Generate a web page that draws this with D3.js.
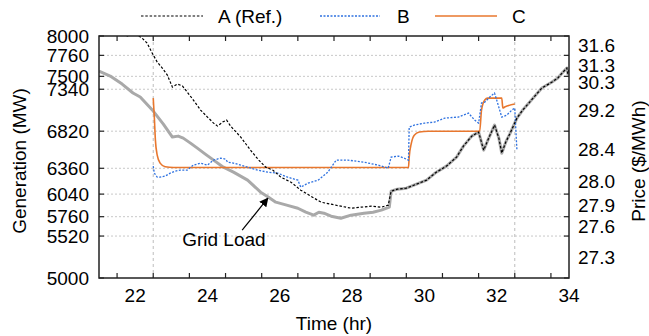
<!DOCTYPE html>
<html>
<head>
<meta charset="utf-8">
<script src="https://cdn.jsdelivr.net/npm/d3@7"></script>
<style>
  body { margin: 0; background: #fff; }
  svg { font-family: "Liberation Sans", Arial, sans-serif; }
</style>
</head>
<body>
<div id="chart"></div>
<script>
// generation axis ticks (MW) and price steps ($/MWh) between them
const genTicks = [8000, 7760, 7500, 7340, 6820, 6360, 6040, 5760, 5520, 5000];
const priceLabels = ["31.6", "31.3", "30.3", "29.2", "28.4", "28.0", "27.9", "27.6", "27.3"];
const xLabels = [22, 24, 26, 28, 30, 32, 34];
const xMinor = [21.5, 22.5, 23.5, 24.5, 25.5, 26.5, 27.5, 28.5, 29.5, 30.5, 31.5, 32.5, 33.5];
const refLines = [22.5, 32.5];

// Grid Load (gray)
const gridT = [21.00, 21.31, 21.64, 21.94, 22.14, 22.50, 22.78, 23.03, 23.19, 23.33, 23.53, 23.72, 23.94, 24.17, 24.44, 24.72, 25.11, 25.47, 25.69, 25.89, 26.19, 26.50, 26.72, 26.94, 27.08, 27.22, 27.42, 27.69, 27.97, 28.33, 28.58, 28.81, 29.03,
  29.08, 29.25, 29.50, 29.78, 30.06, 30.33, 30.61, 30.89, 31.08, 31.31, 31.50, 31.64, 31.78, 31.94, 32.06, 32.14, 32.25, 32.36, 32.56, 32.72, 32.89, 33.08, 33.25, 33.53, 33.69, 33.81, 33.94, 33.97, 34.00];
const gridG = [7566, 7504, 7404, 7293, 7243, 7069, 6908, 6747, 6759, 6734, 6672, 6610, 6536, 6461, 6374, 6312, 6213, 6064, 6002, 5940, 5903, 5865, 5816, 5779, 5816, 5803, 5766, 5741, 5779, 5803, 5816, 5841, 5878,
  6076, 6101, 6114, 6163, 6213, 6312, 6387, 6498, 6635, 6759, 6809, 6585, 6734, 6896, 6734, 6548, 6684, 6784, 6982, 7082, 7169, 7268, 7355, 7429, 7479, 7541, 7603, 7528, 7590];

// A (Ref.)
const aT = [21.00, 21.44, 21.78, 21.92, 22.06, 22.19, 22.33, 22.47, 22.61, 22.75, 22.89, 23.03, 23.17, 23.31, 23.44, 23.61, 23.81, 24.00, 24.17, 24.28, 24.42, 24.53, 24.64, 24.92, 25.19, 25.42, 25.61, 25.81, 26.03, 26.31, 26.58, 26.86, 27.14, 27.42, 27.69, 27.97, 28.25, 28.53, 28.81, 29.00,
  29.08, 29.25, 29.50, 29.78, 30.06, 30.33, 30.61, 30.89, 31.08, 31.31, 31.50, 31.64, 31.78, 31.94, 32.06, 32.14, 32.25, 32.36, 32.56, 32.72, 32.89, 33.08, 33.25, 33.53, 33.69, 33.81, 33.94, 33.97, 34.00];
const aG = [8150, 8060, 8000, 8025, 8012, 7975, 7913, 7789, 7677, 7603, 7516, 7367, 7404, 7380, 7305, 7206, 7082, 6995, 6920, 6883, 6933, 6958, 6883, 6747, 6585, 6461, 6374, 6337, 6250, 6188, 6089, 6014, 5940, 5915, 5890, 5866, 5878, 5890, 5878, 5903,
  6076, 6101, 6114, 6163, 6213, 6312, 6387, 6498, 6635, 6759, 6809, 6585, 6734, 6896, 6734, 6548, 6684, 6784, 6982, 7082, 7169, 7268, 7355, 7429, 7479, 7541, 7603, 7528, 7590];

// B
const bT = [22.50, 22.53, 22.61, 22.69, 22.83, 22.97, 23.11, 23.25, 23.44, 23.61, 23.81, 24.00, 24.17, 24.36, 24.50, 24.56, 24.72, 24.92, 25.11, 25.39, 25.67, 25.94, 26.22, 26.50, 26.58, 26.78, 27.06, 27.33, 27.56, 27.89, 28.33, 28.72, 29.00, 29.08, 29.28, 29.44, 29.56, 29.58, 29.72, 30.00, 30.28, 30.56, 30.94, 31.22, 31.39, 31.50, 31.58, 31.67, 31.81, 31.94, 32.00, 32.14, 32.28, 32.42, 32.50, 32.53, 32.56];
const bG = [6386, 6300, 6250, 6250, 6263, 6300, 6325, 6337, 6337, 6399, 6424, 6399, 6461, 6486, 6474, 6436, 6424, 6399, 6374, 6337, 6312, 6300, 6250, 6213, 6126, 6176, 6213, 6312, 6461, 6461, 6436, 6399, 6362, 6498, 6511, 6486, 6461, 6871, 6896, 6920, 6933, 6982, 6995, 7044, 6958, 6920, 7169, 7181, 7243, 7293, 7206, 6995, 7020, 7082, 7107, 6833, 6585];

// C
const cT = [22.50, 22.53, 22.56, 22.61, 22.69, 22.83, 23.06, 29.56, 29.58, 29.64, 29.72, 29.86, 30.11, 31.53, 31.58, 31.67, 31.75, 32.14, 32.17, 32.22, 32.50];
const cG = [7230, 6995, 6709, 6523, 6424, 6380, 6370, 6370, 6498, 6672, 6771, 6809, 6820, 6820, 7082, 7206, 7230, 7230, 7107, 7119, 7156];

const W = 649, H = 336;
const margin = { top: 36, right: 80, bottom: 58, left: 99 };
const iw = W - margin.left - margin.right;
const ih = H - margin.top - margin.bottom;

const svg = d3.select("#chart").append("svg")
  .attr("width", W).attr("height", H);

const x = d3.scaleLinear().domain([21, 34]).range([margin.left, margin.left + iw]);
const y = d3.scaleLinear().domain([5000, 8000]).range([margin.top + ih, margin.top]);

const defs = svg.append("defs");
defs.append("clipPath").attr("id", "plot-clip")
  .append("rect").attr("x", margin.left).attr("y", margin.top).attr("width", iw).attr("height", ih);
defs.append("marker")
  .attr("id", "arrow").attr("viewBox", "0 0 10 10")
  .attr("refX", 9).attr("refY", 5)
  .attr("markerWidth", 9).attr("markerHeight", 9)
  .attr("markerUnits", "userSpaceOnUse")
  .attr("orient", "auto")
  .append("path").attr("d", "M0,0L10,5L0,10z").attr("fill", "#000");

// gridlines
svg.append("g").selectAll("line").data(genTicks.slice(1, -1)).join("line")
  .attr("x1", margin.left).attr("x2", margin.left + iw)
  .attr("y1", d => y(d)).attr("y2", d => y(d))
  .attr("stroke", "#c8c8c8").attr("stroke-width", 1).attr("stroke-dasharray", "2,2");

svg.append("g").selectAll("line").data(refLines).join("line")
  .attr("x1", d => x(d)).attr("x2", d => x(d))
  .attr("y1", margin.top).attr("y2", margin.top + ih)
  .attr("stroke", "#bdbdbd").attr("stroke-width", 1).attr("stroke-dasharray", "3,3");

const line = d3.line().x(d => x(d[0])).y(d => y(d[1]));
const smooth = d3.line().x(d => x(d[0])).y(d => y(d[1])).curve(d3.curveMonotoneX);
const plot = svg.append("g").attr("clip-path", "url(#plot-clip)");

plot.append("path").datum(d3.zip(gridT, gridG))
  .attr("d", line).attr("fill", "none")
  .attr("stroke", "#a9a9a9").attr("stroke-width", 3).attr("stroke-linejoin", "round");

plot.append("path").datum(d3.zip(cT, cG))
  .attr("d", smooth).attr("fill", "none")
  .attr("stroke", "#e8772e").attr("stroke-width", 1.6);

plot.append("path").datum(d3.zip(bT, bG))
  .attr("d", line).attr("fill", "none")
  .attr("stroke", "#2f72e0").attr("stroke-width", 1.3).attr("stroke-dasharray", "2,1.5");

plot.append("path").datum(d3.zip(aT, aG))
  .attr("d", line).attr("fill", "none")
  .attr("stroke", "#000").attr("stroke-width", 1.2).attr("stroke-dasharray", "2.5,1.8");

// frame
svg.append("rect")
  .attr("x", margin.left).attr("y", margin.top).attr("width", iw).attr("height", ih)
  .attr("fill", "none").attr("stroke", "#222").attr("stroke-width", 1.5);

// inward ticks
const tk = 5;
svg.append("g").selectAll("line").data(xMinor).join("line")
  .attr("x1", d => x(d)).attr("x2", d => x(d))
  .attr("y1", margin.top + ih).attr("y2", margin.top + ih - tk)
  .attr("stroke", "#222").attr("stroke-width", 1.2);
svg.append("g").selectAll("line").data(xMinor).join("line")
  .attr("x1", d => x(d)).attr("x2", d => x(d))
  .attr("y1", margin.top).attr("y2", margin.top + tk)
  .attr("stroke", "#222").attr("stroke-width", 1.2);
svg.append("g").selectAll("line").data(genTicks).join("line")
  .attr("x1", margin.left).attr("x2", margin.left + tk)
  .attr("y1", d => y(d)).attr("y2", d => y(d))
  .attr("stroke", "#222").attr("stroke-width", 1.2);
svg.append("g").selectAll("line").data(genTicks).join("line")
  .attr("x1", margin.left + iw).attr("x2", margin.left + iw - tk)
  .attr("y1", d => y(d)).attr("y2", d => y(d))
  .attr("stroke", "#222").attr("stroke-width", 1.2);

const fs = 19;
// left labels
svg.append("g").selectAll("text").data(genTicks).join("text")
  .attr("x", margin.left - 10).attr("y", d => y(d)).attr("dy", "0.35em")
  .attr("text-anchor", "end").attr("font-size", fs).text(d => d);

// right labels: price steps placed between generation ticks
svg.append("g").selectAll("text").data(priceLabels).join("text")
  .attr("x", margin.left + iw + 9)
  .attr("y", (d, i) => (y(genTicks[i]) + y(genTicks[i + 1])) / 2).attr("dy", "0.35em")
  .attr("font-size", fs).text(d => d);

// bottom labels
svg.append("g").selectAll("text").data(xLabels).join("text")
  .attr("x", d => x(d)).attr("y", margin.top + ih + 24)
  .attr("text-anchor", "middle").attr("font-size", fs).text(d => d);

// axis titles
svg.append("text").attr("x", margin.left + iw / 2).attr("y", 330)
  .attr("text-anchor", "middle").attr("font-size", fs).text("Time (hr)");
svg.append("text").attr("transform", `translate(26,${margin.top + ih / 2 + 4}) rotate(-90)`)
  .attr("text-anchor", "middle").attr("font-size", fs).text("Generation (MW)");
svg.append("text").attr("transform", `translate(645,${margin.top + ih / 2 + 4}) rotate(-90)`)
  .attr("text-anchor", "middle").attr("font-size", fs).text("Price ($/MWh)");

// annotation
svg.append("line")
  .attr("x1", x(24.96)).attr("y1", y(5592))
  .attr("x2", x(25.67)).attr("y2", y(5990))
  .attr("stroke", "#000").attr("stroke-width", 1.2)
  .attr("marker-end", "url(#arrow)");
svg.append("text").attr("x", x(23.3)).attr("y", y(5394))
  .attr("font-size", fs).text("Grid Load");

// legend
const legend = [
  { label: "A (Ref.)", x1: 141, x2: 203, tx: 218, color: "#000", dash: "2.5,1.8", w: 1.2 },
  { label: "B", x1: 320, x2: 380, tx: 397, color: "#2f72e0", dash: "2,1.5", w: 1.3 },
  { label: "C", x1: 435, x2: 497, tx: 512, color: "#e8772e", dash: null, w: 1.6 }
];
const lg = svg.append("g");
lg.selectAll("line").data(legend).join("line")
  .attr("x1", d => d.x1).attr("x2", d => d.x2).attr("y1", 16).attr("y2", 16)
  .attr("stroke", d => d.color).attr("stroke-width", d => d.w)
  .attr("stroke-dasharray", d => d.dash);
lg.selectAll("text").data(legend).join("text")
  .attr("x", d => d.tx).attr("y", 23).attr("font-size", fs).text(d => d.label);
</script>
</body>
</html>
